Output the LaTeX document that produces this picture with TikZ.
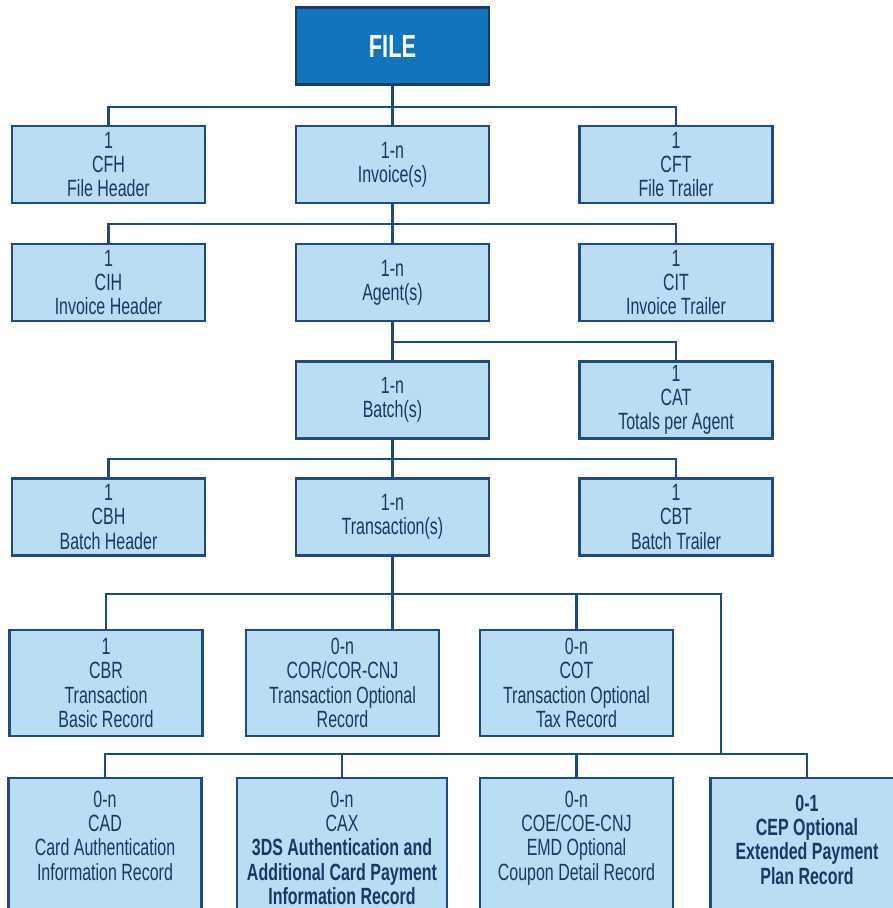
\documentclass[tikz,border=0pt]{standalone}
\usepackage{fontspec}
\setmainfont[FakeStretch=0.68]{Liberation Sans}
\usepackage{tikz}
\usetikzlibrary{positioning,calc}
\definecolor{recblue}{RGB}{16,117,188}
\definecolor{recfill}{RGB}{185,221,243}
\definecolor{recline}{RGB}{31,74,135}
\definecolor{rectext}{RGB}{27,55,100}
\newcommand{\toppad}[1][29pt]{\rule{0pt}{#1}}
\newcommand{\lowpad}{\rule[-40pt]{0pt}{0pt}}

\begin{document}
\begin{tikzpicture}[
    x=1pt, y=-1pt,
    rec/.style={rectangle, draw=recline, line width=2.4pt, fill=recfill, minimum width=193pt, minimum height=77pt, inner sep=0pt, align=center, text=rectext, font={\fontsize{23.5}{24.3}\selectfont}},
    tall/.style={rec, minimum height=106pt},
    leaf/.style={rec, anchor=north, minimum height=0pt},
    filebox/.style={rec, fill=recblue, draw=recline!80!black, text=white, font={\fontsize{32}{34}\selectfont\bfseries}},
    link/.style={draw=recline, line width=2.4pt}
]
    \useasboundingbox (0,0) rectangle (892,908);

    % Root
    \node[filebox] (file) at (392.5,46) {FILE};

    % File level
    \node[rec] (cfh) at (108.5,164.5) {1\\CFH\\File Header};
    \node[rec] (inv) at (392.5,164.5) {1-n\\Invoice(s)};
    \node[rec] (cft) at (676,164.5) {1\\CFT\\File Trailer};

    % Invoice level
    \node[rec] (cih) at (108.5,282.5) {1\\CIH\\Invoice Header};
    \node[rec] (agt) at (392.5,282.5) {1-n\\Agent(s)};
    \node[rec] (cit) at (676,282.5) {1\\CIT\\Invoice Trailer};

    % Agent level
    \node[rec] (bat) at (392.5,400) {1-n\\Batch(s)};
    \node[rec] (cat) at (676,400) {1\\CAT\\Totals per Agent};

    % Batch level
    \node[rec] (cbh) at (108.5,517) {1\\CBH\\Batch Header};
    \node[rec] (tra) at (392.5,517) {1-n\\Transaction(s)};
    \node[rec] (cbt) at (676,517) {1\\CBT\\Batch Trailer};

    % Transaction records
    \node[tall] (cbr) at (106,683) {1\\CBR\\Transaction\\Basic Record};
    \node[tall] (cor) at (342.5,683) {0-n\\COR/COR-CNJ\\Transaction Optional\\Record};
    \node[tall] (cot) at (576.5,683) {0-n\\COT\\Transaction Optional\\Tax Record};

    \node[leaf] (cad) at (105,777) {\toppad 0-n\\CAD\\Card Authentication\\Information Record\lowpad};
    \node[leaf, minimum width=210pt] (cax) at (342,777) {\toppad 0-n\\CAX\\\textbf{3DS Authentication and}\\\textbf{Additional Card Payment}\\\textbf{Information Record}\lowpad};
    \node[leaf] (coe) at (576.5,777) {\toppad 0-n\\COE/COE-CNJ\\EMD Optional\\Coupon Detail Record\lowpad};
    \node[leaf, font={\fontsize{23.5}{24.3}\selectfont\bfseries}] (cep) at (807,777) {\toppad[33pt]0-1\\CEP Optional\\Extended Payment\\Plan Record\lowpad};

    % Bus junctions
    \coordinate (b1) at (392.5,107);
    \coordinate (b2) at (392.5,224);
    \coordinate (b3) at (392.5,342);
    \coordinate (b4) at (392.5,459);
    \coordinate (b5) at (721,594);
    \coordinate (b6) at (721,754);

    % Links
    \draw[link] (file) -- (inv);
    \draw[link] (cfh.north) |- (b1) -| (cft.north);
    \draw[link] (inv) -- (agt);
    \draw[link] (cih.north) |- (b2) -| (cit.north);
    \draw[link] (agt) -- (bat);
    \draw[link] (b3) -| (cat.north);
    \draw[link] (bat) -- (tra);
    \draw[link] (cbh.north) |- (b4) -| (cbt.north);
    \draw[link] (tra.south) -- (tra.south |- cor.north);
    \draw[link] (cbr.north) |- (b5) -- (b6);
    \draw[link] (cot.north) -- (cot.north |- b5);
    \draw[link] (cad.north) |- (b6) -| (cep.north);
    \draw[link] (cax.north) -- (cax.north |- b6);
    \draw[link] (coe.north) -- (coe.north |- b6);
\end{tikzpicture}
\end{document}
